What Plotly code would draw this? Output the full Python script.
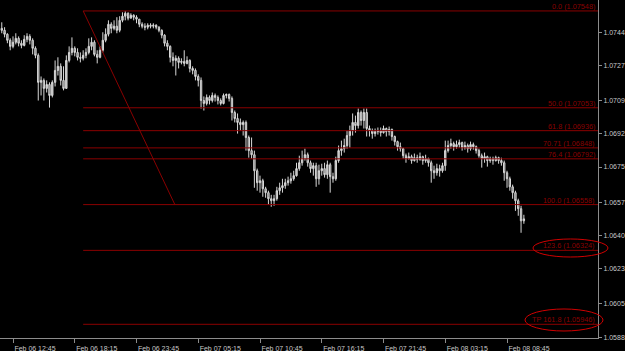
import pandas as pd
import plotly.graph_objects as go

# ---------------- data (EURUSD M15) ----------------
start_time = "2017-02-06 11:45"

opens = [
    1.07459, 1.07449, 1.07429, 1.07398, 1.07367, 1.07388, 1.07408, 1.07383, 1.07372, 1.07403,
    1.07418, 1.07398, 1.07357, 1.07321, 1.07183, 1.07193, 1.07152, 1.07172, 1.07116, 1.07183,
    1.07244, 1.07265, 1.07193, 1.07152, 1.07295, 1.07336, 1.07357, 1.07336, 1.07311, 1.07306,
    1.07321, 1.07336, 1.07367, 1.07388, 1.07326, 1.07311, 1.07347, 1.07398, 1.07429, 1.07480,
    1.07459, 1.07470, 1.07449, 1.07500, 1.07521, 1.07536, 1.07511, 1.07526, 1.07516, 1.07506,
    1.07480, 1.07470, 1.07465, 1.07475, 1.07470, 1.07475, 1.07465, 1.07449, 1.07424, 1.07383,
    1.07367, 1.07311, 1.07295, 1.07306, 1.07285, 1.07290, 1.07280, 1.07295, 1.07254, 1.07244,
    1.07213, 1.07193, 1.07090, 1.07075, 1.07106, 1.07090, 1.07116, 1.07106, 1.07090, 1.07075,
    1.07116, 1.07121, 1.07101, 1.07029, 1.06998, 1.06978, 1.06967, 1.06978, 1.06901, 1.06834,
    1.06813, 1.06731, 1.06670, 1.06680, 1.06639, 1.06619, 1.06588, 1.06578, 1.06588, 1.06629,
    1.06644, 1.06655, 1.06670, 1.06680, 1.06690, 1.06706, 1.06742, 1.06772, 1.06793, 1.06813,
    1.06772, 1.06742, 1.06757, 1.06690, 1.06731, 1.06742, 1.06711, 1.06762, 1.06701, 1.06690,
    1.06783, 1.06834, 1.06844, 1.06860, 1.06911, 1.06936, 1.06978, 1.06962, 1.07029, 1.06988,
    1.07029, 1.06947, 1.06936, 1.06921, 1.06931, 1.06936, 1.06926, 1.06947, 1.06931, 1.06942,
    1.06906, 1.06880, 1.06854, 1.06844, 1.06808, 1.06793, 1.06803, 1.06783, 1.06798, 1.06788,
    1.06803, 1.06783, 1.06793, 1.06772, 1.06731, 1.06721, 1.06742, 1.06731, 1.06757, 1.06834,
    1.06860, 1.06870, 1.06854, 1.06865, 1.06875, 1.06849, 1.06860, 1.06844, 1.06865, 1.06854,
    1.06834, 1.06808, 1.06793, 1.06803, 1.06783, 1.06793, 1.06783, 1.06798, 1.06783, 1.06772,
    1.06721, 1.06690, 1.06649, 1.06619, 1.06578, 1.06537, 1.06475,
]

highs = [
    1.07490, 1.07465, 1.07434, 1.07408, 1.07418, 1.07434, 1.07418, 1.07398, 1.07424, 1.07434,
    1.07429, 1.07408, 1.07367, 1.07331, 1.07213, 1.07203, 1.07193, 1.07183, 1.07193, 1.07295,
    1.07311, 1.07280, 1.07265, 1.07321, 1.07367, 1.07413, 1.07367, 1.07357, 1.07336, 1.07347,
    1.07357, 1.07408, 1.07413, 1.07398, 1.07347, 1.07367, 1.07439, 1.07459, 1.07500, 1.07490,
    1.07500, 1.07516, 1.07521, 1.07541, 1.07547, 1.07541, 1.07536, 1.07531, 1.07526, 1.07506,
    1.07490, 1.07485, 1.07485, 1.07485, 1.07485, 1.07480, 1.07470, 1.07454, 1.07429, 1.07398,
    1.07372, 1.07336, 1.07321, 1.07316, 1.07306, 1.07347, 1.07316, 1.07301, 1.07265, 1.07254,
    1.07224, 1.07208, 1.07111, 1.07121, 1.07116, 1.07131, 1.07126, 1.07116, 1.07101, 1.07126,
    1.07126, 1.07126, 1.07111, 1.07039, 1.07024, 1.06998, 1.06988, 1.06988, 1.06911, 1.06901,
    1.06834, 1.06742, 1.06706, 1.06690, 1.06649, 1.06629, 1.06608, 1.06608, 1.06649, 1.06670,
    1.06690, 1.06690, 1.06701, 1.06721, 1.06731, 1.06772, 1.06808, 1.06834, 1.06844, 1.06824,
    1.06783, 1.06772, 1.06772, 1.06762, 1.06767, 1.06772, 1.06783, 1.06772, 1.06721, 1.06803,
    1.06860, 1.06885, 1.06895, 1.06936, 1.06962, 1.07024, 1.07013, 1.07049, 1.07039, 1.07049,
    1.07049, 1.06962, 1.06947, 1.06947, 1.06952, 1.06952, 1.06962, 1.06952, 1.06957, 1.06947,
    1.06911, 1.06885, 1.06875, 1.06849, 1.06819, 1.06824, 1.06813, 1.06819, 1.06813, 1.06824,
    1.06808, 1.06813, 1.06798, 1.06783, 1.06757, 1.06767, 1.06762, 1.06772, 1.06885, 1.06885,
    1.06895, 1.06880, 1.06885, 1.06890, 1.06880, 1.06880, 1.06870, 1.06880, 1.06875, 1.06860,
    1.06844, 1.06819, 1.06824, 1.06808, 1.06803, 1.06803, 1.06808, 1.06803, 1.06798, 1.06783,
    1.06731, 1.06701, 1.06660, 1.06629, 1.06588, 1.06552, 1.06506,
]

lows = [
    1.07434, 1.07413, 1.07383, 1.07347, 1.07357, 1.07377, 1.07367, 1.07357, 1.07367, 1.07388,
    1.07377, 1.07326, 1.07306, 1.07090, 1.07116, 1.07090, 1.07131, 1.07054, 1.07106, 1.07162,
    1.07218, 1.07167, 1.07142, 1.07152, 1.07285, 1.07321, 1.07316, 1.07295, 1.07285, 1.07295,
    1.07306, 1.07326, 1.07347, 1.07316, 1.07280, 1.07306, 1.07336, 1.07388, 1.07418, 1.07434,
    1.07449, 1.07434, 1.07439, 1.07490, 1.07500, 1.07500, 1.07511, 1.07500, 1.07485, 1.07465,
    1.07459, 1.07449, 1.07454, 1.07459, 1.07459, 1.07454, 1.07439, 1.07408, 1.07367, 1.07347,
    1.07285, 1.07265, 1.07218, 1.07254, 1.07275, 1.07265, 1.07275, 1.07234, 1.07224, 1.07193,
    1.07162, 1.07049, 1.07039, 1.07065, 1.07070, 1.07080, 1.07085, 1.07070, 1.07065, 1.07070,
    1.07101, 1.07085, 1.06988, 1.06978, 1.06921, 1.06936, 1.06911, 1.06834, 1.06798, 1.06793,
    1.06644, 1.06629, 1.06619, 1.06598, 1.06593, 1.06557, 1.06547, 1.06552, 1.06578, 1.06608,
    1.06619, 1.06639, 1.06655, 1.06665, 1.06680, 1.06701, 1.06731, 1.06757, 1.06783, 1.06752,
    1.06721, 1.06706, 1.06649, 1.06660, 1.06706, 1.06696, 1.06690, 1.06619, 1.06670, 1.06680,
    1.06772, 1.06808, 1.06824, 1.06844, 1.06849, 1.06911, 1.06926, 1.06947, 1.06962, 1.06947,
    1.06906, 1.06906, 1.06895, 1.06906, 1.06916, 1.06906, 1.06921, 1.06906, 1.06911, 1.06885,
    1.06860, 1.06834, 1.06829, 1.06793, 1.06772, 1.06788, 1.06767, 1.06778, 1.06772, 1.06783,
    1.06762, 1.06772, 1.06752, 1.06670, 1.06690, 1.06706, 1.06701, 1.06721, 1.06731, 1.06824,
    1.06844, 1.06834, 1.06844, 1.06849, 1.06834, 1.06839, 1.06824, 1.06834, 1.06839, 1.06819,
    1.06798, 1.06747, 1.06772, 1.06752, 1.06772, 1.06762, 1.06778, 1.06767, 1.06757, 1.06680,
    1.06644, 1.06629, 1.06588, 1.06526, 1.06501, 1.06414, 1.06460,
]

closes = [
    1.07449, 1.07429, 1.07398, 1.07367, 1.07388, 1.07408, 1.07383, 1.07372, 1.07403, 1.07418,
    1.07398, 1.07357, 1.07321, 1.07183, 1.07193, 1.07152, 1.07172, 1.07116, 1.07183, 1.07244,
    1.07265, 1.07193, 1.07152, 1.07295, 1.07336, 1.07357, 1.07336, 1.07311, 1.07306, 1.07321,
    1.07336, 1.07367, 1.07388, 1.07326, 1.07311, 1.07347, 1.07398, 1.07429, 1.07480, 1.07459,
    1.07470, 1.07449, 1.07500, 1.07521, 1.07536, 1.07511, 1.07526, 1.07516, 1.07506, 1.07480,
    1.07470, 1.07465, 1.07475, 1.07470, 1.07475, 1.07465, 1.07449, 1.07424, 1.07383, 1.07367,
    1.07311, 1.07295, 1.07306, 1.07285, 1.07290, 1.07280, 1.07295, 1.07254, 1.07244, 1.07213,
    1.07193, 1.07090, 1.07075, 1.07106, 1.07090, 1.07116, 1.07106, 1.07090, 1.07075, 1.07116,
    1.07121, 1.07101, 1.07029, 1.06998, 1.06978, 1.06967, 1.06978, 1.06901, 1.06834, 1.06813,
    1.06731, 1.06670, 1.06680, 1.06639, 1.06619, 1.06588, 1.06578, 1.06588, 1.06629, 1.06644,
    1.06655, 1.06670, 1.06680, 1.06690, 1.06706, 1.06742, 1.06772, 1.06793, 1.06813, 1.06772,
    1.06742, 1.06757, 1.06690, 1.06731, 1.06742, 1.06711, 1.06762, 1.06701, 1.06690, 1.06783,
    1.06834, 1.06844, 1.06860, 1.06911, 1.06936, 1.06978, 1.06962, 1.07029, 1.06988, 1.07029,
    1.06947, 1.06936, 1.06921, 1.06931, 1.06936, 1.06926, 1.06947, 1.06931, 1.06942, 1.06906,
    1.06880, 1.06854, 1.06844, 1.06808, 1.06793, 1.06803, 1.06783, 1.06798, 1.06788, 1.06803,
    1.06783, 1.06793, 1.06772, 1.06731, 1.06721, 1.06742, 1.06731, 1.06757, 1.06834, 1.06860,
    1.06870, 1.06854, 1.06865, 1.06875, 1.06849, 1.06860, 1.06844, 1.06865, 1.06854, 1.06834,
    1.06808, 1.06793, 1.06803, 1.06783, 1.06793, 1.06783, 1.06798, 1.06783, 1.06772, 1.06721,
    1.06690, 1.06649, 1.06619, 1.06578, 1.06537, 1.06475, 1.06485,
]

# Fibonacci retracement drawing
fib_labels = ["0.0", "50.0", "61.8", "70.71", "76.4", "100.0", "123.6", "TP 161.8"]
fib_prices = [1.07548, 1.07053, 1.06936, 1.06848, 1.06792, 1.06558, 1.06324, 1.05946]
fib_start_time = "2017-02-06 19:00"
fib_end_time = "2017-02-07 03:10"

# axes
x_range = ["2017-02-06 11:35:32", "2017-02-08 16:51:12"]
x_tick_times = ["2017-02-06 12:45", "2017-02-06 18:15", "2017-02-06 23:45",
                "2017-02-07 05:15", "2017-02-07 10:45", "2017-02-07 16:15",
                "2017-02-07 21:45", "2017-02-08 03:15", "2017-02-08 08:45"]
x_tick_text = ["Feb 06 12:45", "Feb 06 18:15", "Feb 06 23:45", "Feb 07 05:15",
               "Feb 07 10:45", "Feb 07 16:15", "Feb 07 21:45", "Feb 08 03:15",
               "Feb 08 08:45"]
y_range = [1.05876, 1.07604]
y_tick_text = ["1.0744", "1.0727", "1.0709", "1.0692", "1.0675",
               "1.0657", "1.0640", "1.0623", "1.0605", "1.0588"]
y_tick_vals = [1.0744, 1.0727, 1.0709, 1.0692, 1.0675,
               1.0657, 1.0640, 1.0623, 1.0605, 1.0588]

# ---------------- figure ----------------
times = pd.date_range(start_time, periods=len(closes), freq="15min")

FIB_COLOR = "#8a0000"
TEXT_COLOR = "#c8c8c8"
AXIS_COLOR = "#8c8c8c"

fig = go.Figure()
fig.add_trace(go.Candlestick(
    x=times, open=opens, high=highs, low=lows, close=closes,
    increasing=dict(line=dict(color="#d8d8d8", width=1), fillcolor="#b8b8b8"),
    decreasing=dict(line=dict(color="#d8d8d8", width=1), fillcolor="#6a6a6a"),
    whiskerwidth=0, showlegend=False, hoverinfo="skip",
))

# trend line of the fib tool
fig.add_shape(type="line", xref="x", yref="y",
              x0=fib_start_time, y0=fib_prices[0], x1=fib_end_time, y1=fib_prices[5],
              line=dict(color=FIB_COLOR, width=1))

for lab, p in zip(fib_labels, fib_prices):
    fig.add_shape(type="line", xref="x", yref="y",
                  x0=fib_start_time, x1=x_range[1], y0=p, y1=p,
                  line=dict(color=FIB_COLOR, width=1))
    fig.add_annotation(xref="paper", yref="y", x=0.9975, y=p,
                       text=f"{lab} ({p:.5f})", showarrow=False,
                       xanchor="right", yanchor="bottom", yshift=-2,
                       font=dict(family="Liberation Sans", size=7.3, color=FIB_COLOR))

# hand-drawn ellipses around the targets
fig.add_shape(type="circle", xref="paper", yref="paper",
              x0=0.8913, x1=1.0167, y0=0.2396, y1=0.2929,
              line=dict(color="#d00000", width=1))
fig.add_shape(type="circle", xref="paper", yref="paper",
              x0=0.8779, x1=1.0084, y0=0.0207, y1=0.0858,
              line=dict(color="#d00000", width=1))

fig.update_layout(
    width=625, height=351,
    margin=dict(l=0, r=27, t=0, b=13, pad=0),
    paper_bgcolor="#000000", plot_bgcolor="#000000",
    showlegend=False, hovermode=False,
    font=dict(family="Liberation Sans", size=7, color=TEXT_COLOR),
    xaxis=dict(
        type="date", range=x_range, rangeslider=dict(visible=False),
        showgrid=False, zeroline=False, automargin=False,
        showline=True, linecolor=AXIS_COLOR, linewidth=1,
        ticks="outside", ticklen=4, tickcolor=AXIS_COLOR,
        tickvals=x_tick_times, ticktext=x_tick_text, ticklabelshift=22,
        tickfont=dict(family="Liberation Sans", size=7, color=TEXT_COLOR),
    ),
    yaxis=dict(
        side="right", range=y_range,
        showgrid=False, zeroline=False, automargin=False,
        showline=True, linecolor=AXIS_COLOR, linewidth=1,
        ticks="outside", ticklen=3, tickcolor=AXIS_COLOR,
        tickvals=y_tick_vals, ticktext=y_tick_text,
        tickfont=dict(family="Liberation Sans", size=7, color=TEXT_COLOR),
    ),
)

fig.write_html("out.html", config=dict(displayModeBar=False))
